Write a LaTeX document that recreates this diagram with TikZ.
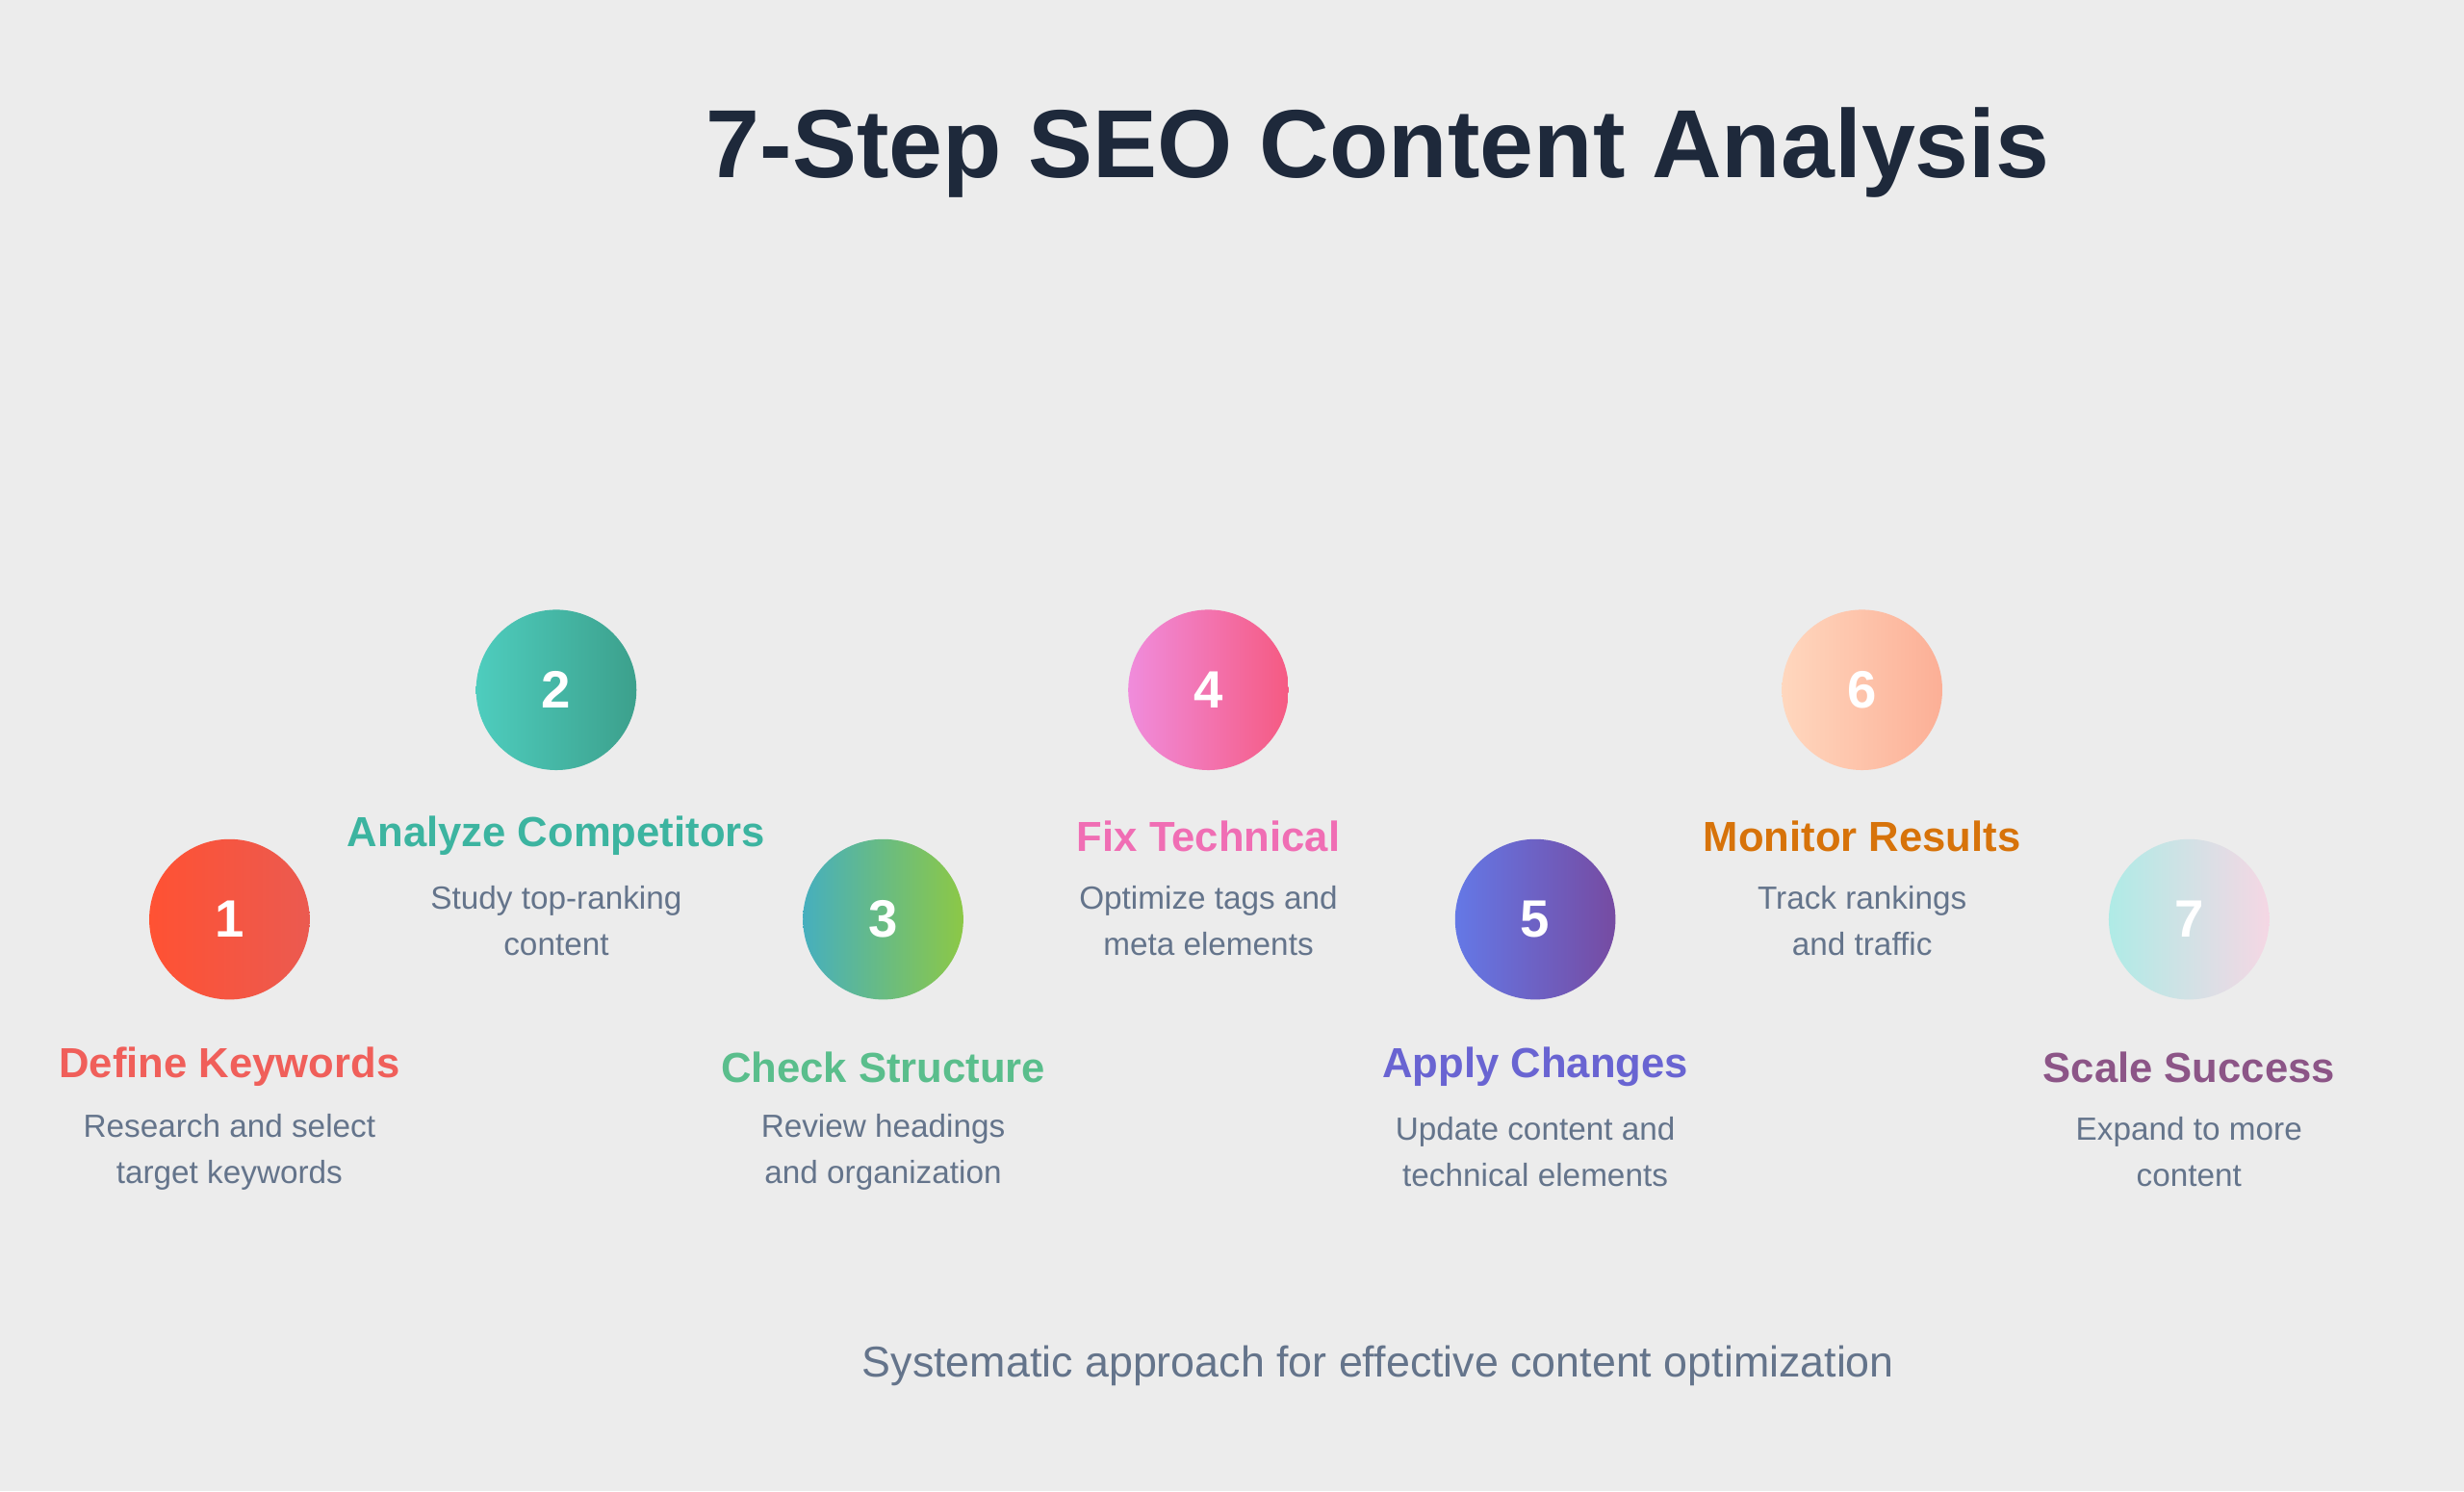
\documentclass[tikz,border=0pt]{standalone}
\usepackage{fontspec}
\setmainfont{Liberation Sans}
\begin{document}
\begin{tikzpicture}[x=0.01cm,y=-0.01cm,
  stepcirc/.style={circle,minimum size=102\pgflinewidth*0+1.02cm,inner sep=0pt,shading=axis,shading angle=-45,text=white,font=\fontsize{9.5}{11}\selectfont\bfseries},
  steptitle/.style={font=\fontsize{7.6}{9}\selectfont\bfseries},
  stepdesc/.style={font=\fontsize{5.8}{8.3}\selectfont,text=descgray,align=center}]
\definecolor{bg}{HTML}{ECECEC}
\definecolor{descgray}{HTML}{64748B}
\definecolor{titledark}{HTML}{1E293B}
\fill[bg] (0,0) rectangle (1568,949);
\useasboundingbox (0,0) rectangle (1568,949);
\node[font=\fontsize{17.5}{20}\selectfont\bfseries,text=titledark] (title) at (877,97) {7-Step SEO Content Analysis};
\node[stepcirc,left color=red!70!orange!80!white,right color={rgb,255:red,235;green,90;blue,80}] (c1) at (146,585) {1};
\node[stepcirc,left color={rgb,255:red,78;green,205;blue,190},right color={rgb,255:red,60;green,160;blue,140}] (c2) at (354,439) {2};
\node[stepcirc,left color={rgb,255:red,70;green,175;blue,190},right color={rgb,255:red,140;green,200;blue,70}] (c3) at (562,585) {3};
\node[stepcirc,left color={rgb,255:red,240;green,140;blue,220},right color={rgb,255:red,245;green,90;blue,130}] (c4) at (769,439) {4};
\node[stepcirc,left color={rgb,255:red,100;green,120;blue,230},right color={rgb,255:red,118;green,75;blue,162}] (c5) at (977,585) {5};
\node[stepcirc,left color={rgb,255:red,255;green,215;blue,190},right color={rgb,255:red,252;green,175;blue,150}] (c6) at (1185,439) {6};
\node[stepcirc,left color={rgb,255:red,175;green,235;blue,230},right color={rgb,255:red,245;green,215;blue,228}] (c7) at (1393,585) {7};
\node[steptitle,text={rgb,255:red,240;green,95;blue,90}] (t1) at (146,679) {Define Keywords};
\node[stepdesc] (d1) at (146,733) {Research and select\\target keywords};
\node[steptitle,text={rgb,255:red,60;green,180;blue,160}] (t2) at (354,532) {Analyze Competitors};
\node[stepdesc] (d2) at (354,586) {Study top-ranking\\content};
\node[steptitle,text={rgb,255:red,90;green,190;blue,140}] (t3) at (562,679) {Check Structure};
\node[stepdesc] (d3) at (562,733) {Review headings\\and organization};
\node[steptitle,text={rgb,255:red,240;green,110;blue,180}] (t4) at (769,532) {Fix Technical};
\node[stepdesc] (d4) at (769,586) {Optimize tags and\\meta elements};
\node[steptitle,text={rgb,255:red,105;green,100;blue,210}] (t5) at (977,679) {Apply Changes};
\node[stepdesc] (d5) at (977,733) {Update content and\\technical elements};
\node[steptitle,text={rgb,255:red,215;green,115;blue,10}] (t6) at (1185,532) {Monitor Results};
\node[stepdesc] (d6) at (1185,586) {Track rankings\\and traffic};
\node[steptitle,text={rgb,255:red,140;green,85;blue,135}] (t7) at (1393,679) {Scale Success};
\node[stepdesc] (d7) at (1393,733) {Expand to more\\content};
\node[font=\fontsize{7.8}{9}\selectfont,text=descgray] (sub) at (877,869) {Systematic approach for effective content optimization};
\end{tikzpicture}
\end{document}
